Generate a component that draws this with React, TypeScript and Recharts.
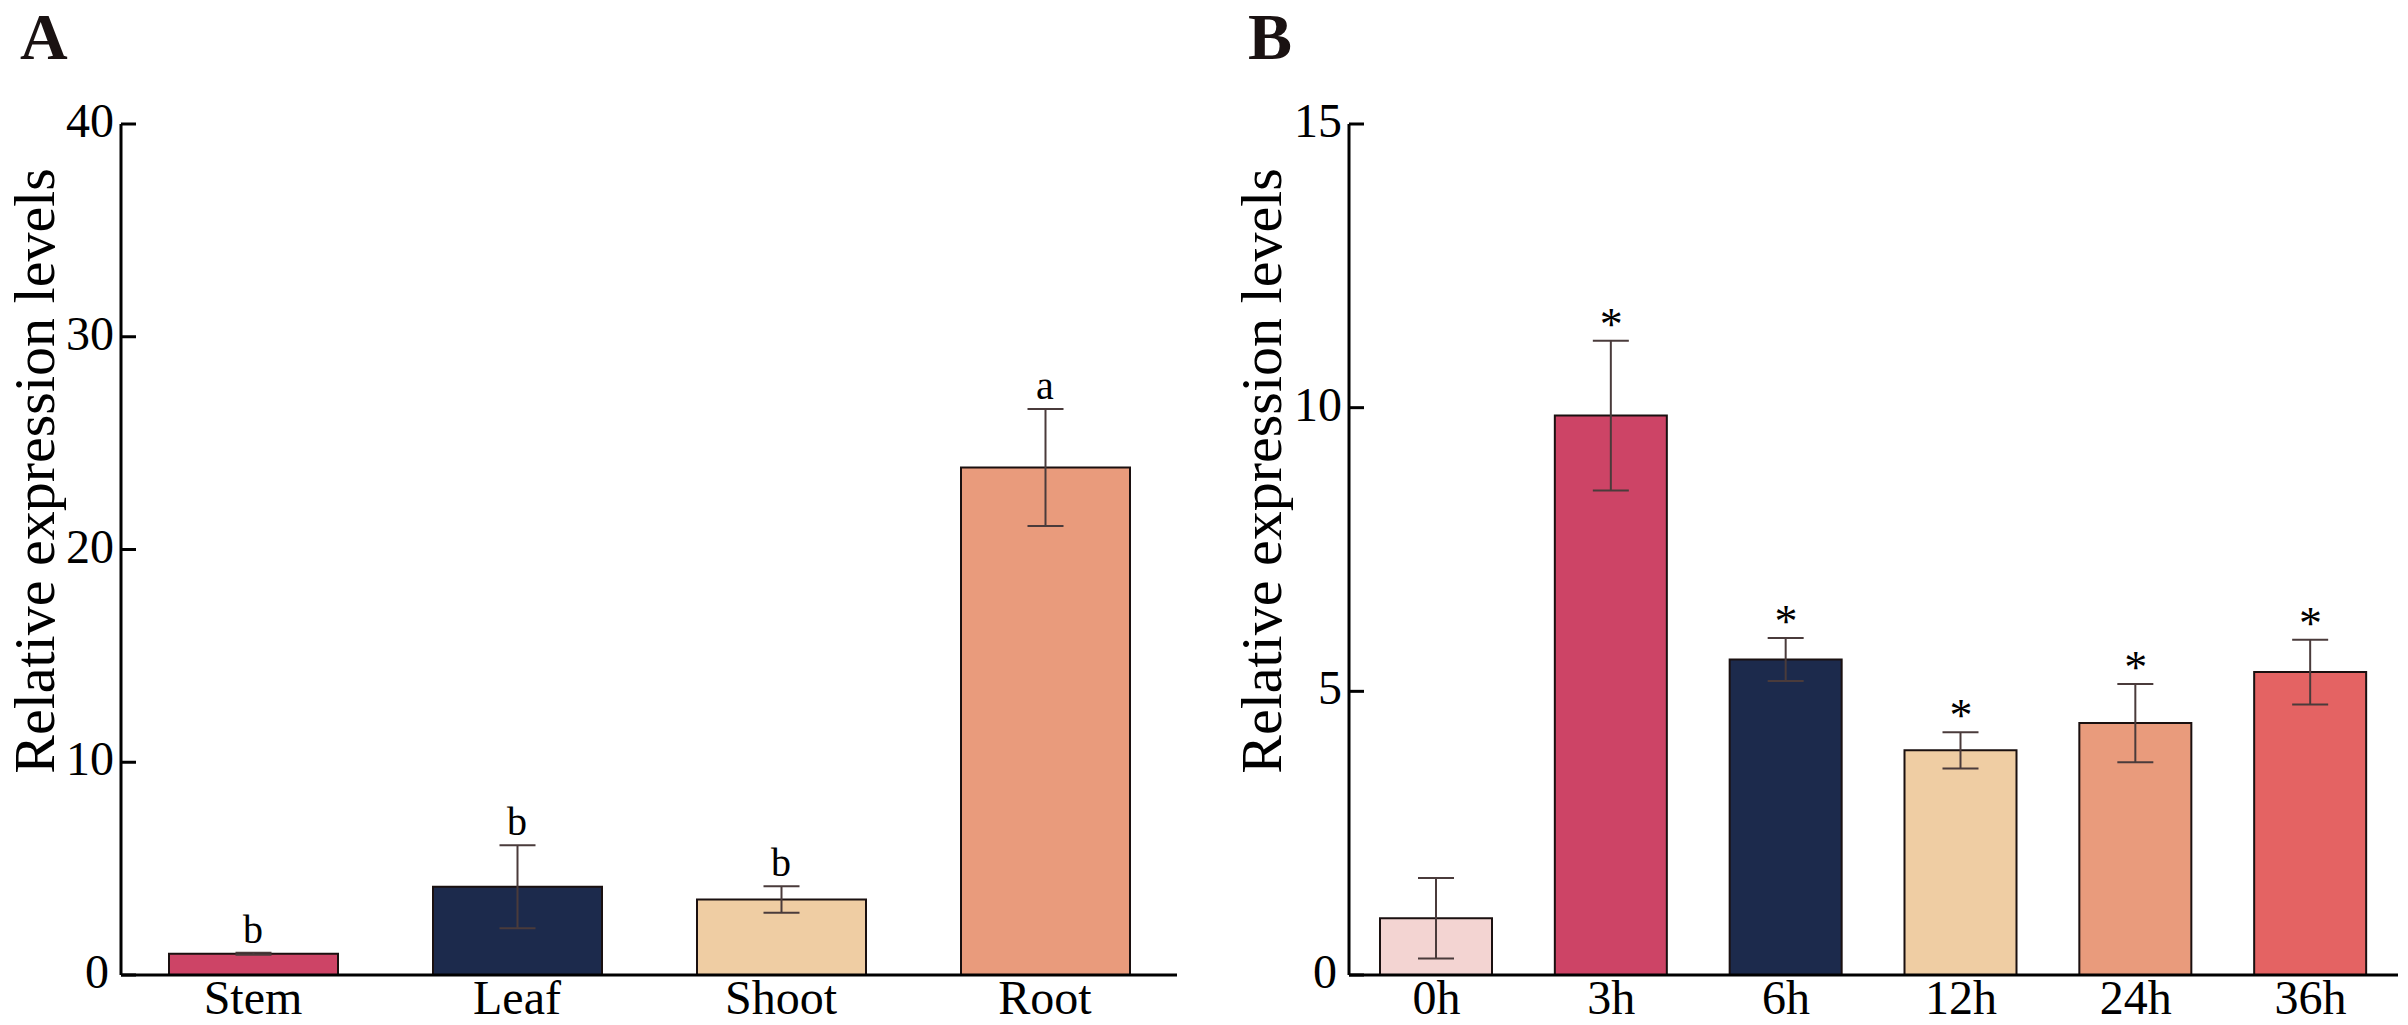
import React from 'react';
import { ComposedChart, Bar, XAxis, YAxis, ErrorBar, Line, LabelList, Label, Cell } from 'recharts';

const FONT = '"Liberation Serif", "Times New Roman", Times, serif';

// Panel A: tissues
const tissueCategories = ['Stem', 'Leaf', 'Shoot', 'Root'];
const tissueMeans = [1.0, 4.15, 3.55, 23.85];
const tissueErrors = [0.05, 1.95, 0.62, 2.75];
const tissueLetters = ['b', 'b', 'b', 'a'];
const tissueColors = ['#CD4466', '#1C2A4C', '#EFCDA3', '#E99B7C'];
const tissueTicks = [0, 10, 20, 30, 40];

// Panel B: time course
const timeCategories = ['0h', '3h', '6h', '12h', '24h', '36h'];
const timeMeans = [1.0, 9.86, 5.56, 3.96, 4.44, 5.34];
const timeErrors = [0.71, 1.32, 0.38, 0.32, 0.69, 0.57];
const timeMarks = ['', '*', '*', '*', '*', '*'];
const timeColors = ['#F3D4D2', '#CD4466', '#1C2A4C', '#EFCDA3', '#E99B7C', '#E46363'];
const timeTicks = [0, 5, 10, 15];

type PanelProps = {
  categories: string[];
  means: number[];
  errors: number[];
  marks: string[];
  colors: string[];
  ticks: number[];
  width: number;
  yAxisWidth: number;
  marginRight: number;
  barSize: number;
  labelX: number;
};

const YTick = (props: any) => {
  const { x, y, payload } = props;
  const shift = payload.value === 0 ? -5 : 0;
  return (
    <text x={x + shift} y={y} dy={13} textAnchor="end" fontSize={48} fontFamily={FONT} fill="#000">
      {payload.value}
    </text>
  );
};

const MarkLabel = (props: any) => {
  const { x, y, value } = props;
  if (!value) return null;
  const isStar = value === '*';
  return (
    <text
      x={x}
      y={y - (isStar ? 1 : 10)}
      textAnchor="middle"
      fontSize={isStar ? 46 : 40}
      fontFamily={FONT}
      fill="#000"
    >
      {value}
    </text>
  );
};

function Panel(p: PanelProps) {
  const data = p.categories.map((name, i) => ({
    name,
    mean: p.means[i],
    err: p.errors[i],
    top: p.means[i] + p.errors[i],
    mark: p.marks[i],
  }));
  const max = p.ticks[p.ticks.length - 1];
  return (
    <ComposedChart
      width={p.width}
      height={1025}
      data={data}
      margin={{ top: 124, right: p.marginRight, bottom: 0, left: 0 }}
    >
      <XAxis
        dataKey="name"
        type="category"
        interval={0}
        height={50}
        axisLine={{ stroke: '#000', strokeWidth: 3 }}
        tickLine={false}
        tickSize={0}
        tickMargin={5}
        tick={{ fontSize: 48, fontFamily: FONT, fill: '#000' }}
      />
      <YAxis
        type="number"
        domain={[0, max]}
        ticks={p.ticks}
        interval={0}
        width={p.yAxisWidth}
        axisLine={{ stroke: '#000', strokeWidth: 3 }}
        tickLine={{ stroke: '#000', strokeWidth: 3 }}
        tickSize={-15}
        tickMargin={22}
        tick={<YTick />}
      >
        <Label
          content={() => (
            <text
              x={p.labelX}
              y={471}
              transform={`rotate(-90 ${p.labelX} 471)`}
              textAnchor="middle"
              fontSize={58}
              fontFamily={FONT}
              fill="#000"
            >
              Relative expression levels
            </text>
          )}
        />
      </YAxis>
      <Bar dataKey="mean" barSize={p.barSize} stroke="#1a1010" strokeWidth={2} isAnimationActive={false}>
        {data.map((d, i) => (
          <Cell key={d.name} fill={p.colors[i]} />
        ))}
        <ErrorBar dataKey="err" width={18} stroke="#4a3b3b" strokeWidth={2} direction="y" />
      </Bar>
      <Line
        dataKey="top"
        stroke="none"
        dot={false}
        activeDot={false}
        legendType="none"
        isAnimationActive={false}
      >
        <LabelList dataKey="mark" content={<MarkLabel />} />
      </Line>
    </ComposedChart>
  );
}

export default function App() {
  return (
    <div style={{ position: 'absolute', left: 0, top: 0, width: 2408, height: 1025, background: '#fff' }}>
      <div style={{ position: 'absolute', left: 0, top: 0 }}>
        <Panel
          categories={tissueCategories}
          means={tissueMeans}
          errors={tissueErrors}
          marks={tissueLetters}
          colors={tissueColors}
          ticks={tissueTicks}
          width={1200}
          yAxisWidth={121}
          marginRight={23}
          barSize={169}
          labelX={54}
        />
      </div>
      <div style={{ position: 'absolute', left: 1200, top: 0 }}>
        <Panel
          categories={timeCategories}
          means={timeMeans}
          errors={timeErrors}
          marks={timeMarks}
          colors={timeColors}
          ticks={timeTicks}
          width={1208}
          yAxisWidth={149}
          marginRight={10}
          barSize={112}
          labelX={81}
        />
      </div>
      <svg
        width={2408}
        height={100}
        style={{ position: 'absolute', left: 0, top: 0, pointerEvents: 'none' }}
      >
        <text x={20} y={59} fontSize={66} fontWeight="bold" fontFamily={FONT} fill="#1a1212">
          A
        </text>
        <text x={1248} y={59} fontSize={66} fontWeight="bold" fontFamily={FONT} fill="#1a1212">
          B
        </text>
      </svg>
    </div>
  );
}
